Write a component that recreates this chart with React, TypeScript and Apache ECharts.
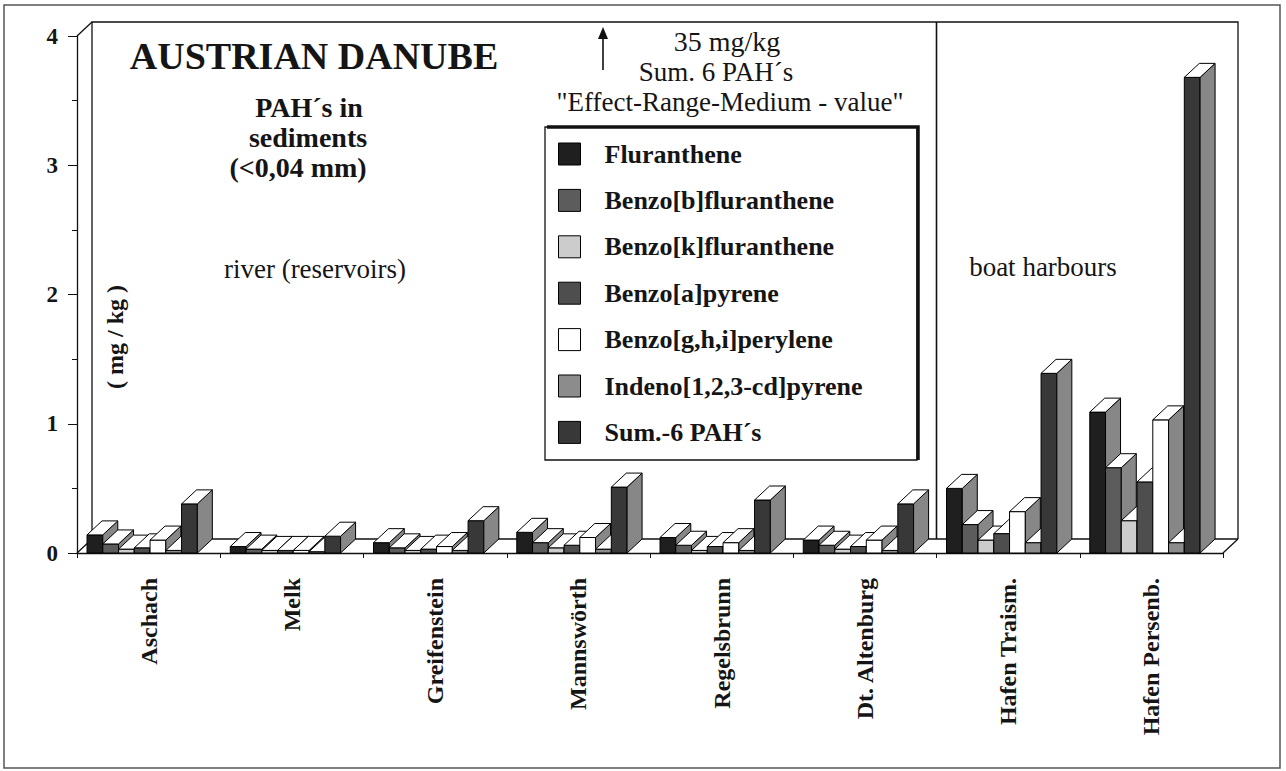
import React, { useEffect, useRef } from "react";
import * as echarts from "echarts";

const categories = ["Aschach", "Melk", "Greifenstein", "Mannswörth", "Regelsbrunn", "Dt. Altenburg", "Hafen Traism.", "Hafen Persenb."];
const seriesNames = ["Fluranthene", "Benzo[b]fluranthene", "Benzo[k]fluranthene", "Benzo[a]pyrene", "Benzo[g,h,i]perylene", "Indeno[1,2,3-cd]pyrene", "Sum.-6 PAH´s"];
const fluranthene = [0.14, 0.05, 0.08, 0.16, 0.12, 0.10, 0.50, 1.09];
const benzoB = [0.07, 0.03, 0.04, 0.08, 0.06, 0.06, 0.22, 0.66];
const benzoK = [0.03, 0.02, 0.02, 0.04, 0.02, 0.03, 0.10, 0.25];
const benzoA = [0.04, 0.02, 0.03, 0.06, 0.05, 0.05, 0.15, 0.55];
const benzoGHI = [0.10, 0.02, 0.05, 0.12, 0.08, 0.10, 0.32, 1.03];
const indeno = [0.02, 0.01, 0.02, 0.03, 0.02, 0.02, 0.08, 0.08];
const sum6 = [0.38, 0.13, 0.25, 0.51, 0.41, 0.38, 1.39, 3.68];
const yTicks = [0, 1, 2, 3, 4];

const seriesValues = [fluranthene, benzoB, benzoK, benzoA, benzoGHI, indeno, sum6];
const frontColors = ["#1f1f1f", "#5c5c5c", "#cccccc", "#4e4e4e", "#ffffff", "#8c8c8c", "#383838"];
const SIDE = "#878787";
const SERIF = '"Liberation Serif", "Times New Roman", serif';

const GL = 77, GT = 36, GR = 1223, GB = 553;
const DX = 15, DY = 14;
const GROUP_OFF = 0.07, BAR_FRAC = 0.11;

export default function App() {
  const ref = useRef<HTMLDivElement>(null);
  useEffect(() => {
    if (!ref.current) return;
    const chart = echarts.init(ref.current, null, { renderer: "svg" });
    const catW = (GR - GL) / categories.length;
    const series = seriesValues.map((vals, sIdx) => ({
      type: "custom",
      name: seriesNames[sIdx],
      itemStyle: { color: frontColors[sIdx] },
      encode: { x: 0, y: 1 },
      data: vals.map((v, i) => [i, v]),
      renderItem: (params: any, api: any) => {
        const ci = api.value(0);
        const v = api.value(1);
        const base = api.coord([ci, 0]);
        const top = api.coord([ci, v]);
        const band = api.size([1, 0])[0];
        const w = band * BAR_FRAC;
        const x0 = base[0] - band / 2 + band * GROUP_OFF + sIdx * w;
        const y0 = base[1];
        const y1 = top[1];
        const st = { stroke: "#000", lineWidth: 1 };
        return {
          type: "group",
          children: [
            { type: "polygon", shape: { points: [[x0, y0], [x0 + w, y0], [x0 + w, y1], [x0, y1]] }, style: { ...st, fill: frontColors[sIdx] } },
            { type: "polygon", shape: { points: [[x0 + w, y0], [x0 + w + DX, y0 - DY], [x0 + w + DX, y1 - DY], [x0 + w, y1]] }, style: { ...st, fill: SIDE } },
            { type: "polygon", shape: { points: [[x0, y1], [x0 + w, y1], [x0 + w + DX, y1 - DY], [x0 + DX, y1 - DY]] }, style: { ...st, fill: "#fff" } },
          ],
        };
      },
    }));

    const txt = (text: string, x: number, y: number, size: number, bold: boolean, extra: any = {}) => ({
      type: "text",
      x, y,
      ...extra,
      style: {
        text, x: 0, y: 0,
        fill: "#151515",
        fontFamily: SERIF,
        fontSize: size,
        fontWeight: bold ? "bold" : "normal",
        textAlign: "center", align: "center",
        textVerticalAlign: "middle", verticalAlign: "middle",
      },
    });
    const ln = (x1: number, y1: number, x2: number, y2: number, lw = 1.3) => ({
      type: "line", shape: { x1, y1, x2, y2 }, style: { stroke: "#111", lineWidth: lw },
    });

    const graphic: any[] = [
      { type: "rect", shape: { x: 4, y: 5, width: 1276, height: 763 }, style: { fill: "none", stroke: "#555", lineWidth: 1.5 } },
      { type: "polyline", shape: { points: [[GL + DX, GB - DY], [GL + DX, GT - DY], [GR + DX, GT - DY], [GR + DX, GB - DY]] }, style: { fill: "none", stroke: "#111", lineWidth: 1.3 } },
      ln(GL, GT, GL + DX, GT - DY),
      ln(GL, GB, GL + DX, GB - DY),
      ln(GL + DX, GB - DY, GR + DX, GB - DY),
      ln(GR, GB, GR + DX, GB - DY),
      ln(GL + 6 * catW, GT - DY, GL + 6 * catW, GB - DY, 1.6),
      txt("AUSTRIAN DANUBE", 314, 56, 38, true),
      txt("PAH´s in", 309, 107, 28, true),
      txt("sediments", 308, 137, 28, true),
      txt("(<0,04 mm)", 298, 167, 28, true),
      txt("35 mg/kg", 727, 41, 28, false),
      txt("Sum. 6 PAH´s", 716, 72, 27, false),
      txt("\"Effect-Range-Medium - value\"", 730, 102, 27, false),
      ln(603, 70, 603, 34, 1.6),
      { type: "polygon", shape: { points: [[603, 27], [598, 39], [608, 39]] }, style: { fill: "#111" } },
      txt("river (reservoirs)", 315, 269, 27, false),
      txt("boat harbours", 1043, 267, 27, false),
      txt("( mg / kg )", 115, 337, 24, true, { rotation: Math.PI / 2 }),
      { type: "rect", shape: { x: 545, y: 127, width: 372, height: 333 }, style: { fill: "#fff", stroke: "#111", lineWidth: 1.3 } },
      { type: "polyline", shape: { points: [[547, 127], [918, 127], [918, 460]] }, style: { fill: "none", stroke: "#111", lineWidth: 3.5 } },
    ];

    chart.setOption({
      animation: false,
      grid: { left: GL, right: 1286 - GR, top: GT, bottom: 771 - GB, containLabel: false },
      legend: {
        data: seriesNames,
        orient: "vertical",
        left: 558,
        top: 141,
        padding: 0,
        itemWidth: 22,
        itemHeight: 22,
        itemGap: 20.4,
        icon: "rect",
        selectedMode: false,
        itemStyle: { borderColor: "#000", borderWidth: 1 },
        textStyle: { fontFamily: SERIF, fontWeight: "bold", fontSize: 26, color: "#151515", padding: [0, 0, 0, 19] },
      },
      xAxis: {
        type: "category",
        data: categories,
        axisLine: { show: true, lineStyle: { color: "#111", width: 1.3 } },
        axisTick: { show: true, alignWithLabel: false, length: 5, lineStyle: { color: "#111" } },
        axisLabel: { rotate: 90, margin: 25, fontFamily: SERIF, fontWeight: "bold", fontSize: 24, color: "#151515", interval: 0 },
        splitLine: { show: false },
      },
      yAxis: {
        type: "value",
        min: yTicks[0],
        max: yTicks[yTicks.length - 1],
        interval: 1,
        axisLine: { show: true, lineStyle: { color: "#111", width: 1.3 } },
        axisTick: { show: true, length: 9, lineStyle: { color: "#111" } },
        minorTick: { show: true, splitNumber: 2, length: 5, lineStyle: { color: "#111" } },
        axisLabel: { margin: 19, fontFamily: SERIF, fontWeight: "bold", fontSize: 23, color: "#151515" },
        splitLine: { show: false },
      },
      graphic,
      series,
    });
    return () => chart.dispose();
  }, []);
  return <div ref={ref} style={{ position: "fixed", left: 0, top: 0, width: 1286, height: 771, background: "#fff" }} />;
}
